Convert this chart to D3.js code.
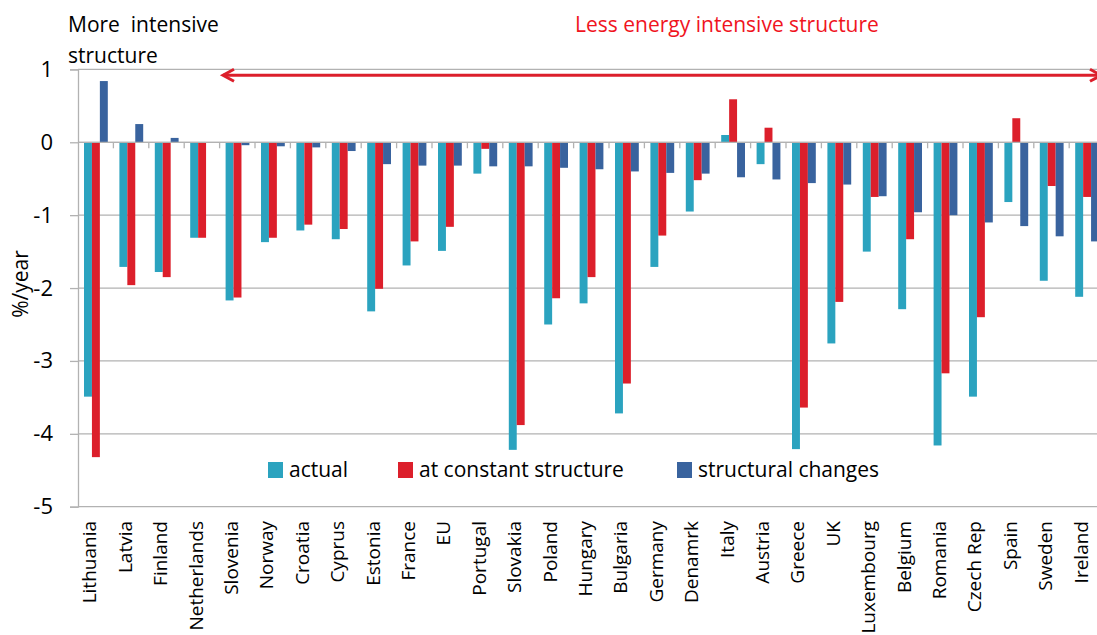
<!DOCTYPE html>
<html>
<head>
<meta charset="utf-8">
<script src="https://cdn.jsdelivr.net/npm/d3@7"></script>
<style>
  body { margin: 0; background: #fff; }
  svg { display: block; font-family: "Open Sans", sans-serif; }
</style>
</head>
<body>
<svg id="chart" width="1097" height="635"></svg>
<script>
// data (%/year)
const countries = ["Lithuania", "Latvia", "Finland", "Netherlands", "Slovenia", "Norway", "Croatia", "Cyprus",
  "Estonia", "France", "EU", "Portugal", "Slovakia", "Poland", "Hungary", "Bulgaria", "Germany", "Denamrk",
  "Italy", "Austria", "Greece", "UK", "Luxembourg", "Belgium", "Romania", "Czech Rep", "Spain", "Sweden", "Ireland"]

const actual = [-3.49, -1.71, -1.78, -1.31, -2.17, -1.37, -1.21, -1.33,
  -2.32, -1.69, -1.49, -0.43, -4.22, -2.50, -2.21, -3.72, -1.71, -0.95,
  0.10, -0.30, -4.21, -2.76, -1.50, -2.29, -4.16, -3.49, -0.82, -1.90, -2.12]

const constantStructure = [-4.32, -1.96, -1.85, -1.31, -2.13, -1.31, -1.13, -1.19,
  -2.01, -1.36, -1.16, -0.09, -3.88, -2.14, -1.85, -3.31, -1.28, -0.52,
  0.59, 0.20, -3.64, -2.19, -0.75, -1.33, -3.17, -2.40, 0.33, -0.60, -0.75]

const structuralChanges = [0.84, 0.25, 0.06, 0.0, -0.04, -0.055, -0.07, -0.12,
  -0.30, -0.32, -0.32, -0.33, -0.33, -0.35, -0.37, -0.40, -0.42, -0.43,
  -0.48, -0.51, -0.56, -0.58, -0.74, -0.96, -1.00, -1.10, -1.15, -1.29, -1.36]

const seriesNames = ["actual", "at constant structure", "structural changes"]
const seriesColors = ["#2ba3bf", "#dc1f2b", "#39639e"]
const yTicks = [-5, -4, -3, -2, -1, 0, 1]

const svg = d3.select('#chart')

const plotLeft = 78
const band = 35.4
const plotTop = 69.4
const plotBottom = 506.7

const xScale = d3.scaleBand()
  .domain(countries)
  .range([plotLeft, plotLeft + band * countries.length])
  .padding(0)

const xSub = d3.scaleBand()
  .domain(seriesNames)
  .range([6, 29.8])
  .padding(0)

const yScale = d3.scaleLinear()
  .domain([-5, 1])
  .range([plotBottom, plotTop])

// gridlines
svg.append('g')
  .selectAll('line')
  .data(yTicks)
  .enter()
  .append('line')
  .attr('x1', plotLeft)
  .attr('x2', 1097)
  .attr('y1', d => yScale(d))
  .attr('y2', d => yScale(d))
  .attr('stroke', '#b2b2b2')
  .attr('stroke-width', 1.3)

// y axis
const yAxis = svg.append('g')
  .attr('transform', `translate(${plotLeft},0)`)
  .call(d3.axisLeft(yScale).tickValues(yTicks).tickFormat(d => String(d)).tickSize(8).tickPadding(17))
yAxis.select('.domain').attr('stroke', '#b2b2b2').attr('stroke-width', 1.3)
yAxis.selectAll('.tick line').attr('stroke', '#b2b2b2').attr('stroke-width', 1.3)
yAxis.selectAll('.tick text')
  .attr('font-size', 22)
  .attr('font-family', '"Open Sans", sans-serif')
  .attr('fill', '#000')

svg.append('text')
  .attr('transform', 'translate(28,284) rotate(-90)')
  .attr('text-anchor', 'middle')
  .attr('font-size', 21)
  .text('%/year')

// bars
const rows = countries.map((c, i) => ({
  country: c,
  values: [actual[i], constantStructure[i], structuralChanges[i]]
}))

const groups = svg.selectAll('g.cat')
  .data(rows)
  .enter()
  .append('g')
  .attr('class', 'cat')
  .attr('transform', d => `translate(${xScale(d.country)},0)`)

groups.selectAll('rect')
  .data(d => d.values.map((v, k) => ({ v: v, k: k })))
  .enter()
  .append('rect')
  .attr('x', d => xSub(seriesNames[d.k]))
  .attr('width', xSub.bandwidth())
  .attr('y', d => yScale(Math.max(0, d.v)))
  .attr('height', d => Math.abs(yScale(d.v) - yScale(0)))
  .attr('fill', d => seriesColors[d.k])

// x axis along zero with tick marks between categories
const xAxisG = svg.append('g')
xAxisG.append('line')
  .attr('x1', plotLeft).attr('x2', 1097)
  .attr('y1', yScale(0)).attr('y2', yScale(0))
  .attr('stroke', '#b2b2b2').attr('stroke-width', 1.3)
xAxisG.selectAll('line.tk')
  .data(countries)
  .enter()
  .append('line')
  .attr('class', 'tk')
  .attr('x1', d => xScale(d) + band)
  .attr('x2', d => xScale(d) + band)
  .attr('y1', yScale(0))
  .attr('y2', yScale(0) + 6)
  .attr('stroke', '#b2b2b2').attr('stroke-width', 1.3)

// category labels
svg.append('g')
  .selectAll('text')
  .data(countries)
  .enter()
  .append('text')
  .attr('transform', d => `translate(${xScale(d) + band / 2 - 6},521) rotate(-90)`)
  .attr('text-anchor', 'end')
  .attr('dy', '0.35em')
  .attr('font-size', 19)
  .text(d => d)

// legend
const legendX = [268, 398, 677]
const legend = svg.append('g')
seriesNames.forEach((name, k) => {
  legend.append('rect')
    .attr('x', legendX[k]).attr('y', 462)
    .attr('width', 15).attr('height', 16)
    .attr('fill', seriesColors[k])
  legend.append('text')
    .attr('x', legendX[k] + 21).attr('y', 477)
    .attr('font-size', 21)
    .text(name)
})

// annotations
svg.append('text')
  .attr('x', 68).attr('y', 32)
  .attr('font-size', 21)
  .attr('xml:space', 'preserve')
  .text('More  intensive')
svg.append('text')
  .attr('x', 68).attr('y', 63)
  .attr('font-size', 21)
  .text('structure')

svg.append('text')
  .attr('x', 727).attr('y', 32)
  .attr('text-anchor', 'middle')
  .attr('font-size', 21)
  .attr('fill', '#f0141e')
  .text('Less energy intensive structure')

// double arrow
const arrowY = 75.3
const arrow = svg.append('g')
  .attr('stroke', '#dc1f2b')
  .attr('stroke-width', 3)
  .attr('fill', 'none')
arrow.append('line').attr('x1', 223).attr('x2', 1097).attr('y1', arrowY).attr('y2', arrowY)
arrow.append('path').attr('d', `M234,${arrowY - 6} L223,${arrowY} L234,${arrowY + 6}`)
arrow.append('path').attr('d', `M1090,${arrowY - 6} L1101,${arrowY} L1090,${arrowY + 6}`)
</script>
</body>
</html>
